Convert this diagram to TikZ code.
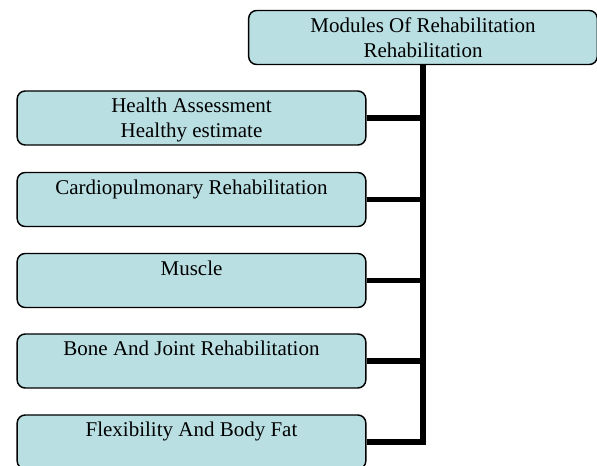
\documentclass[tikz,border=0pt]{standalone}
\usepackage{fontspec}
\setmainfont{Liberation Serif}
\definecolor{modfill}{RGB}{185,223,227}
\begin{document}
\begin{tikzpicture}[x=0.75pt,y=-0.75pt,
    module/.style={draw=black, line width=1.1pt, fill=modfill,
      rounded corners=6pt, inner sep=0pt, align=center,
      minimum width=261.5pt, minimum height=40.5pt,
      font=\fontsize{15.75}{18.75}\selectfont},
    link/.style={line width=4.2pt}]
  \useasboundingbox (0,0) rectangle (597,466);
  \draw
    (423,37.5) node[module] (0) {Modules Of Rehabilitation\\Rehabilitation}
    (191.5,118) node[module] (1) {Health Assessment\\\smash{Healthy estimate}}
    (191.5,199.5) node[module] (2) {Cardiopulmonary Rehabilitation\\\mbox{}}
    (191.5,280.5) node[module] (3) {Muscle\\\mbox{}}
    (191.5,361) node[module] (4) {Bone And Joint Rehabilitation\\\mbox{}}
    (191.5,442) node[module] (5) {Flexibility And Body Fat\\\mbox{}};
  \begin{scope}[link]
    \draw (0) -- (0 |- 5) -- (5);
    \draw (1) -- (1 -| 0);
    \draw (2) -- (2 -| 0);
    \draw (3) -- (3 -| 0);
    \draw (4) -- (4 -| 0);
  \end{scope}
\end{tikzpicture}
\end{document}
